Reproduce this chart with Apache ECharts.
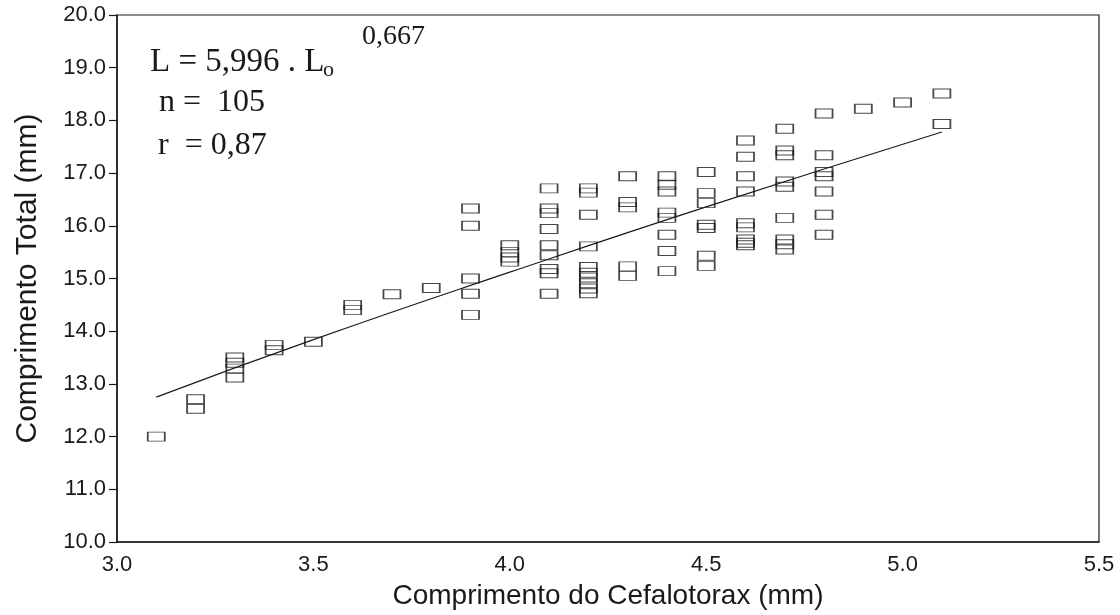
<!DOCTYPE html>
<html>
<head>
<meta charset="utf-8">
<script src="https://cdn.jsdelivr.net/npm/echarts@6/dist/echarts.min.js"></script>
<style>
  html, body { margin: 0; padding: 0; background: #ffffff; }
  #chart { width: 1120px; height: 615px; }
</style>
</head>
<body>
<div id="chart"></div>
<script>
// Comprimento do Cefalotorax (mm) — x positions of the point columns
const cephLength = [3.1, 3.2, 3.3, 3.4, 3.5, 3.6, 3.7, 3.8, 3.9, 4.0, 4.1, 4.2, 4.3, 4.4, 4.5, 4.6, 4.7, 4.8, 4.9, 5.0, 5.1];
// Comprimento Total (mm) — values observed in each column
const totalLength = [
  [12.0],
  [12.71, 12.53],
  [13.50, 13.40, 13.29, 13.12],
  [13.74, 13.64],
  [13.80],
  [14.50, 14.40],
  [14.70],
  [14.82],
  [16.33, 16.00, 15.00, 14.71, 14.31],
  [15.63, 15.50, 15.40, 15.32],
  [16.71, 16.33, 16.24, 15.94, 15.63, 15.44, 15.18, 15.10, 14.71],
  [16.71, 16.63, 16.21, 15.61, 15.22, 15.11, 15.02, 14.91, 14.81, 14.72],
  [16.94, 16.45, 16.35, 15.23, 15.05],
  [16.94, 16.78, 16.65, 16.25, 16.15, 15.83, 15.52, 15.14],
  [17.02, 16.62, 16.43, 16.02, 15.96, 15.43, 15.24],
  [17.62, 17.31, 16.94, 16.65, 16.05, 15.97, 15.74, 15.68, 15.63],
  [17.84, 17.43, 17.34, 16.84, 16.74, 16.15, 15.74, 15.65, 15.55],
  [18.13, 17.34, 17.02, 16.94, 16.65, 16.21, 15.83],
  [18.22],
  [18.34],
  [18.51, 17.93]
];
// fitted curve L = 5,996 . Lo^0,667
const fitX = [3.1, 3.5, 4.0, 4.5, 5.1];
const fitY = [12.75, 13.84, 15.12, 16.36, 17.78];

const xTicks = { min: 3.0, max: 5.5, interval: 0.5 };
const yTicks = { min: 10.0, max: 20.0, interval: 1.0 };

const points = [];
cephLength.forEach(function (x, i) {
  totalLength[i].forEach(function (y) { points.push([x, y]); });
});
const fitLine = fitX.map(function (x, i) { return [x, fitY[i]]; });

const ink = '#1a1a1a';
const sans = '"Liberation Sans", Arial, sans-serif';
const serif = '"Liberation Serif", "Times New Roman", serif';

const chart = echarts.init(document.getElementById('chart'), null, { renderer: 'canvas' });
chart.setOption({
  backgroundColor: '#ffffff',
  animation: false,
  grid: { left: 117, right: 21, top: 15, bottom: 68, show: true, borderColor: ink, borderWidth: 1.2, backgroundColor: 'transparent' },
  xAxis: {
    type: 'value', min: xTicks.min, max: xTicks.max, interval: xTicks.interval,
    name: 'Comprimento do Cefalotorax (mm)', nameLocation: 'middle', nameGap: 40,
    nameTextStyle: { fontFamily: sans, fontSize: 28, color: ink },
    axisLine: { show: true, lineStyle: { color: ink, width: 1.5 } },
    axisTick: { show: false },
    splitLine: { show: false },
    axisLabel: { margin: 12, fontFamily: sans, fontSize: 22, color: ink, formatter: function (v) { return v.toFixed(1); } }
  },
  yAxis: {
    type: 'value', min: yTicks.min, max: yTicks.max, interval: yTicks.interval,
    name: 'Comprimento Total (mm)', nameLocation: 'middle', nameGap: 74,
    nameTextStyle: { fontFamily: sans, fontSize: 30, color: ink },
    axisLine: { show: true, lineStyle: { color: ink, width: 1.5 } },
    axisTick: { show: true, inside: false, length: 8, lineStyle: { color: ink, width: 1.2 } },
    splitLine: { show: false },
    axisLabel: { margin: 11, fontFamily: sans, fontSize: 22, color: ink, formatter: function (v) { return v.toFixed(1); } }
  },
  series: [
    {
      type: 'line', data: fitLine, showSymbol: false, smooth: true,
      lineStyle: { color: ink, width: 1.2 }, z: 2, silent: true
    },
    {
      type: 'scatter', data: points, symbol: 'rect', symbolSize: [17, 9],
      itemStyle: { color: 'rgba(255,255,255,0)', borderColor: ink, borderWidth: 1.3 },
      z: 3, silent: true
    }
  ],
  graphic: [
    { type: 'text', x: 150, y: 46, style: { text: 'L = 5,996 . L', font: '33px ' + serif, fill: ink, align: 'left', verticalAlign: 'top' } },
    { type: 'text', x: 323, y: 59, style: { text: 'o', font: '22px ' + serif, fill: ink, align: 'left', verticalAlign: 'top' } },
    { type: 'text', x: 362, y: 23, style: { text: '0,667', font: '28px ' + serif, fill: ink, align: 'left', verticalAlign: 'top' } },
    { type: 'text', x: 159, y: 87, style: { text: 'n =  105', font: '32px ' + serif, fill: ink, align: 'left', verticalAlign: 'top' } },
    { type: 'text', x: 158, y: 130, style: { text: 'r  = 0,87', font: '32px ' + serif, fill: ink, align: 'left', verticalAlign: 'top' } }
  ]
});
</script>
</body>
</html>
